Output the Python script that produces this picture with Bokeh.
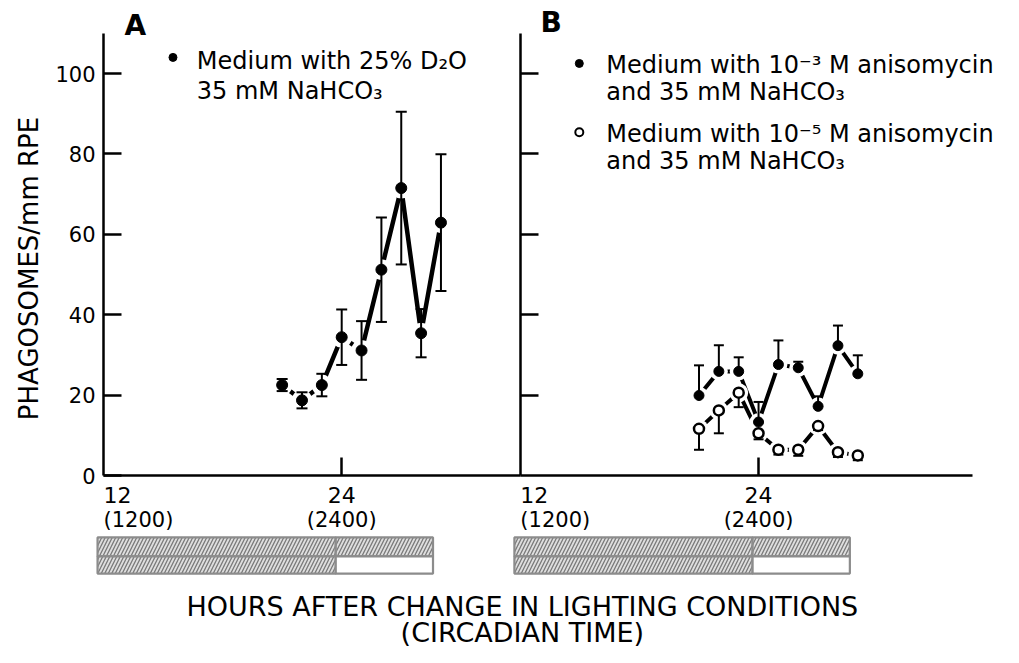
from bokeh.plotting import figure
from bokeh.models import Range1d, LinearAxis, FixedTicker
from bokeh.core.properties import value
from bokeh.embed import file_html
from bokeh.resources import INLINE
import math

# ---------------- data ----------------
hours = [21, 22, 23, 24, 25, 26, 27, 28, 29]

# Panel A: medium with 25% D2O, 35 mM NaHCO3 (mean, +/- error)
a_mean = [22.5, 18.7, 22.5, 34.4, 31.1, 51.2, 71.5, 35.4, 62.9]
a_err = [1.5, 2.0, 2.8, 6.9, 7.3, 13.0, 19.0, 6.0, 17.0]

# Panel B: 10^-3 M anisomycin (filled, error bar upward)
b_high_mean = [19.9, 25.9, 25.9, 13.3, 27.6, 26.8, 17.2, 32.3, 25.3]
b_high_err = [7.5, 6.5, 3.5, 5.0, 6.0, 1.5, 2.5, 5.0, 4.6]
# Panel B: 10^-5 M anisomycin (open, error bar downward)
b_low_mean = [11.6, 16.2, 20.6, 10.5, 6.4, 6.4, 12.3, 5.8, 5.0]
b_low_err = [5.2, 5.7, 3.6, 1.5, 1.2, 1.5, 1.0, 1.2, 1.2]

y_ticks = [0, 20, 40, 60, 80, 100]
x_tick_pos = [12, 24]
x_tick_hours = ["12", "24"]
x_tick_clock = ["(1200)", "(2400)"]

# lighting schedule bars (hours)
bar_start, bar_split, bar_end = 11.7, 23.7, 28.6

legend_a = ["Medium with 25% D\u2082O", "35 mM NaHCO\u2083"]
legend_b1 = ["Medium with 10\u207b\u00b3 M anisomycin", "and 35 mM NaHCO\u2083"]
legend_b2 = ["Medium with 10\u207b\u2075 M anisomycin", "and 35 mM NaHCO\u2083"]
y_title = "PHAGOSOMES/mm RPE"
x_title = ["HOURS AFTER CHANGE IN LIGHTING CONDITIONS", "(CIRCADIAN TIME)"]

# ---------------- layout geometry ----------------
W, H = 1003, 647
AXIS_X = 103      # canvas pixel column of hour 12 in panel A
PX_PER_H = 19.85
PX_PER_U = 4.02
ZERO_Y = 475      # canvas pixel row of y = 0
B_SHIFT = 21      # panel B starts where panel A reaches hour 33
A_AXIS_END = 33
B_AXIS_END = 34.8
Y_TOP = 110

x_start = 12 - AXIS_X / PX_PER_H
x_end = 12 + (W - AXIS_X) / PX_PER_H
y_end = ZERO_Y / PX_PER_U
y_start = -(H - ZERO_Y) / PX_PER_U

FONT = value("DejaVu Sans")

p = figure(width=W, height=H, x_range=Range1d(x_start, x_end),
           y_range=Range1d(y_start, y_end),
           x_axis_type=None, y_axis_type=None,
           output_backend="svg", toolbar_location=None,
           min_border_left=0, min_border_right=0,
           min_border_top=0, min_border_bottom=0)
p.extra_x_ranges = {"B": Range1d(x_start - B_SHIFT, x_end - B_SHIFT)}
p.outline_line_color = None
p.background_fill_color = "white"
p.border_fill_color = "white"

AX_W = 2.5
TICK = 18

# y axis, panel A
ya = LinearAxis(fixed_location=12, bounds=(0, Y_TOP),
                ticker=FixedTicker(ticks=y_ticks))
ya.axis_line_width = AX_W
ya.major_tick_line_width = AX_W
ya.major_tick_in = TICK
ya.major_tick_out = 0
ya.minor_tick_line_color = None
ya.major_label_text_font = "DejaVu Sans"
ya.major_label_text_font_size = "21px"
ya.major_label_text_color = "black"
ya.major_label_standoff = 8
p.add_layout(ya, "left")

# y axis, panel B (ticks only)
yb = LinearAxis(x_range_name="B", fixed_location=12, bounds=(0, Y_TOP),
                ticker=FixedTicker(ticks=y_ticks[1:]),
                major_label_overrides={t: "" for t in y_ticks[1:]})
yb.axis_line_width = AX_W
yb.major_tick_line_width = AX_W
yb.major_tick_in = TICK
yb.major_tick_out = 0
yb.minor_tick_line_color = None
p.add_layout(yb, "left")

# x axes (line + tick at 24)
for rng, end in (("default", A_AXIS_END), ("B", B_AXIS_END)):
    xa = LinearAxis(x_range_name=rng, fixed_location=0, bounds=(12, end),
                    ticker=FixedTicker(ticks=[24]),
                    major_label_overrides={24: ""})
    xa.axis_line_width = AX_W
    xa.major_tick_line_width = AX_W
    xa.major_tick_in = TICK
    xa.major_tick_out = 0
    xa.minor_tick_line_color = None
    p.add_layout(xa, "below")

txt = dict(text_font=FONT, text_color="black")

# y axis title (centred on the 0-110 axis, like the reference)
p.text(x=[12 - 75 / PX_PER_H], y=[51.5], text=[y_title], angle=math.pi / 2,
       text_align="center", text_baseline="middle", text_font_size="26px", **txt)

for rng in ("default", "B"):
    # x tick labels
    p.text(x=x_tick_pos[:1], y=[0], text=x_tick_hours[:1], x_range_name=rng,
           text_align="left", text_baseline="middle", y_offset=19,
           text_font_size="22px", **txt)
    p.text(x=x_tick_pos[:1], y=[0], text=x_tick_clock[:1], x_range_name=rng,
           text_align="left", text_baseline="middle", y_offset=44,
           text_font_size="21px", **txt)
    p.text(x=x_tick_pos[1:], y=[0], text=x_tick_hours[1:], x_range_name=rng,
           text_align="center", text_baseline="middle", y_offset=19,
           text_font_size="22px", **txt)
    p.text(x=x_tick_pos[1:], y=[0], text=x_tick_clock[1:], x_range_name=rng,
           text_align="center", text_baseline="middle", y_offset=44,
           text_font_size="21px", **txt)
    # lighting schedule bars
    row1 = (-15.4, -20.1)
    row2 = (-20.1, -24.4)
    hatch = dict(fill_color="#dedede", hatch_pattern="/", hatch_color="#7a7a7a",
                 hatch_scale=7, hatch_weight=1.3, line_color="#8c8c8c",
                 line_width=2.2, x_range_name=rng)
    p.quad(left=[bar_start, bar_split], right=[bar_split, bar_end],
           top=[row1[0]] * 2, bottom=[row1[1]] * 2, **hatch)
    p.quad(left=[bar_start], right=[bar_split],
           top=[row2[0]], bottom=[row2[1]], **hatch)
    p.quad(left=[bar_split], right=[bar_end], top=[row2[0]], bottom=[row2[1]],
           fill_color="white", line_color="#8c8c8c", line_width=2.2,
           x_range_name=rng)

# ---------------- panel A ----------------
p.line(hours, a_mean, line_color="black", line_width=4.5)
p.scatter(hours, a_mean, size=21, fill_color="white", line_color=None)
a_lo = [m - e for m, e in zip(a_mean, a_err)]
a_hi = [m + e for m, e in zip(a_mean, a_err)]
p.segment(x0=hours, y0=a_lo, x1=hours, y1=a_hi, line_color="black", line_width=2)
p.scatter(hours + hours, a_lo + a_hi, marker="dash", size=11,
          line_color="black", line_width=2)
p.scatter(hours, a_mean, size=11, fill_color="black", line_color="black")

# ---------------- panel B ----------------
p.line(hours, b_high_mean, line_color="black", line_width=4, x_range_name="B")
p.line(hours, b_low_mean, line_color="black", line_width=4, x_range_name="B")
p.scatter(hours, b_high_mean, size=18, fill_color="white", line_color=None,
          x_range_name="B")
p.scatter(hours, b_low_mean, size=19, fill_color="white", line_color=None,
          x_range_name="B")
bh_top = [m + e for m, e in zip(b_high_mean, b_high_err)]
bl_bot = [m - e for m, e in zip(b_low_mean, b_low_err)]
p.segment(x0=hours, y0=b_high_mean, x1=hours, y1=bh_top, line_color="black",
          line_width=2, x_range_name="B")
p.segment(x0=hours, y0=b_low_mean, x1=hours, y1=bl_bot, line_color="black",
          line_width=2, x_range_name="B")
p.scatter(hours + hours, bh_top + bl_bot, marker="dash", size=10,
          line_color="black", line_width=2, x_range_name="B")
p.scatter(hours, b_high_mean, size=10, fill_color="black", line_color="black",
          x_range_name="B")
p.scatter(hours, b_low_mean, size=10, fill_color="white", line_color="black",
          line_width=2.5, x_range_name="B")

# ---------------- panel letters and legends ----------------
p.text(x=[13.6], y=[111.9], text=["A"], text_align="center",
       text_baseline="middle", text_font_size="28px", text_font_style="bold", **txt)
p.text(x=[13.55], y=[112.7], text=["B"], text_align="center",
       text_baseline="middle", text_font_size="28px", text_font_style="bold",
       x_range_name="B", **txt)

p.scatter([15.5], [104.0], size=8, fill_color="black", line_color="black")
p.text(x=[16.7, 16.7], y=[103.0, 95.6], text=legend_a, text_align="left",
       text_baseline="middle", text_font_size="24px", **txt)

p.scatter([14.97], [102.5], size=8, fill_color="black", line_color="black",
          x_range_name="B")
p.scatter([14.97], [85.4], size=8, fill_color="white", line_color="black",
          line_width=2, x_range_name="B")
p.text(x=[16.33] * 4, y=[102.0, 95.4, 85.0, 78.3],
       text=legend_b1 + legend_b2, text_align="left", text_baseline="middle",
       text_font_size="24px", x_range_name="B", **txt)

# ---------------- x title ----------------
p.text(x=[33.1, 33.1], y=[-32.6, -39.1], text=x_title, text_align="center",
       text_baseline="middle", text_font_size="27px", **txt)

open("out.html", "w").write(file_html(p, INLINE))
